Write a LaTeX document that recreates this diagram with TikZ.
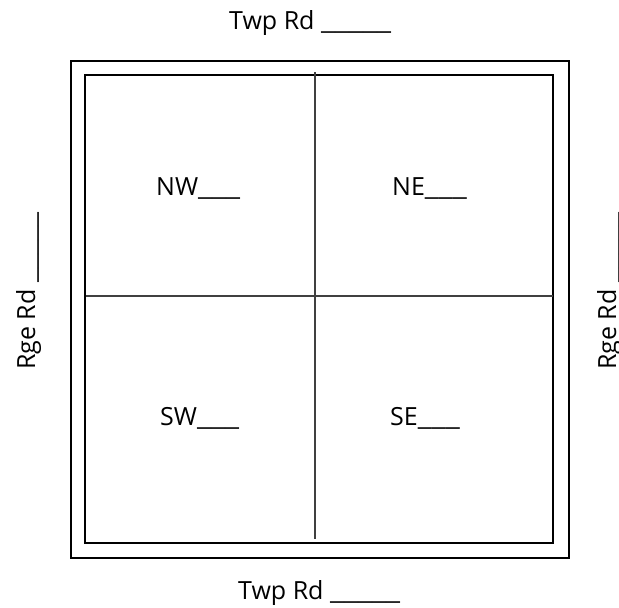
\documentclass[tikz,border=0pt]{standalone}
\usepackage{fontspec}
\setmainfont{Open Sans}
\usepackage{tikz}

\newcommand{\blank}[1]{\scalebox{1.25}[1]{#1}}

\begin{document}
\begin{tikzpicture}[x=1pt,y=-1pt]
  \useasboundingbox (0,0) rectangle (619,608);

  \tikzset{road label/.style={font=\fontsize{25}{30}\selectfont, inner sep=0pt, anchor=base west},
           quarter label/.style={font=\fontsize{25}{30}\selectfont, inner sep=0pt, anchor=base west},
           box line/.style={line width=2.6pt, black},
           cut line/.style={line width=1.3pt, black!75}}

  % section boundary
  \draw[box line] (71,61) rectangle (569,558);
  \draw[box line] (85,75) rectangle (553,543);

  \coordinate (n) at (315,72);
  \coordinate (s) at (315,539);
  \coordinate (w) at (86,296);
  \coordinate (e) at (553,296);

  \draw[cut line] (n) -- (s);
  \draw[cut line] (w) -- (e);

  \begin{scope}[every node/.style={road label}]
      \node (top)    at (229,29)  {Twp Rd \blank{\_\_\_\_\_}};
      \node (bottom) at (238,599) {Twp Rd \blank{\_\_\_\_\_}};
      \node[rotate=90] (left)  at (35,370)  {Rge Rd \blank{\_\_\_\_\_}};
      \node[rotate=90] (right) at (616,370) {Rge Rd \blank{\_\_\_\_\_}};
  \end{scope}

  \begin{scope}[every node/.style={quarter label}]
      \node (nw) at (156,195) {NW\blank{\_\_\_}};
      \node (ne) at (392,195) {NE\blank{\_\_\_}};
      \node (sw) at (160,425) {SW\blank{\_\_\_}};
      \node (se) at (390,425) {SE\blank{\_\_\_}};
  \end{scope}
\end{tikzpicture}
\end{document}
